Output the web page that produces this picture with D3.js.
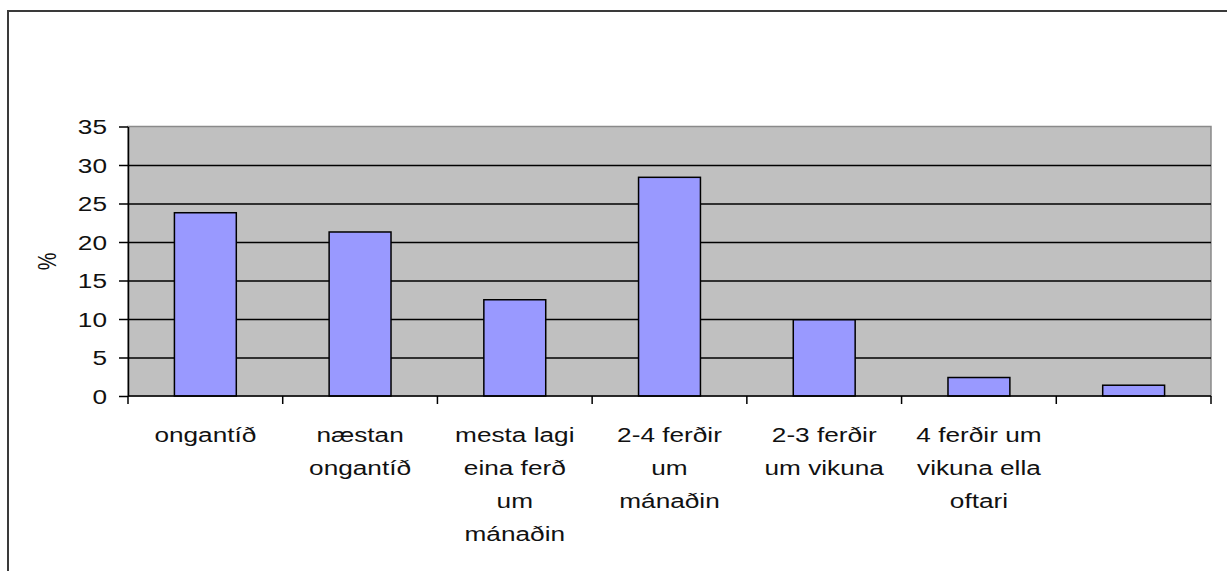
<!DOCTYPE html>
<html>
<head>
<meta charset="utf-8">
<script src="https://cdn.jsdelivr.net/npm/d3@7"></script>
<style>
  body { margin: 0; background: #fff; }
  text { font-family: "Liberation Sans", Arial, sans-serif; fill: #111; }
</style>
</head>
<body>
<svg width="1227" height="571"></svg>
<script>
// categories (line breaks as in the picture), values in %
const categories = [
  'ongantíð',
  'næstan\nongantíð',
  'mesta lagi\neina ferð\num\nmánaðin',
  '2-4 ferðir\num\nmánaðin',
  '2-3 ferðir\num vikuna',
  '4 ferðir um\nvikuna ella\noftari',
  ''
];
const values = [23.8, 21.3, 12.5, 28.4, 9.9, 2.4, 1.4];
const yTicks = [0, 5, 10, 15, 20, 25, 30, 35];
const yLabel = '%';

const sx = 1.31; // the picture is stretched sideways, so is the text
const fontSize = 20;

const svg = d3.select('svg');
const plot = { left: 128, right: 1211, top: 126.5, bottom: 396 };

// outer frame (cut off at right and bottom)
svg.append('rect')
  .attr('x', 8).attr('y', 11)
  .attr('width', 1400).attr('height', 800)
  .attr('fill', 'none')
  .attr('stroke', '#3a3a3a')
  .attr('stroke-width', 2);

const xScale = d3.scaleBand()
  .domain(d3.range(values.length))
  .range([plot.left, plot.right])
  .paddingInner(0.6)
  .paddingOuter(0.3);

const yScale = d3.scaleLinear()
  .domain([0, 35])
  .range([plot.bottom, plot.top]);

// plot background
svg.append('rect')
  .attr('x', plot.left).attr('y', plot.top)
  .attr('width', plot.right - plot.left)
  .attr('height', plot.bottom - plot.top)
  .attr('fill', '#c0c0c0')
  .attr('stroke', '#8a8a8a')
  .attr('stroke-width', 1.5);

// gridlines
const gridG = svg.append('g')
  .attr('transform', `translate(${plot.left},0)`)
  .call(d3.axisLeft(yScale)
    .tickValues(yTicks.filter(t => t > 0 && t < 35))
    .tickSize(-(plot.right - plot.left))
    .tickFormat(''));
gridG.select('.domain').remove();
gridG.selectAll('.tick line').attr('stroke', '#000').attr('stroke-width', 1.5);

// bars
svg.append('g').selectAll('rect')
  .data(values)
  .join('rect')
  .attr('x', (d, i) => xScale(i))
  .attr('y', d => yScale(d))
  .attr('width', xScale.bandwidth())
  .attr('height', d => yScale(0) - yScale(d))
  .attr('fill', '#9999ff')
  .attr('stroke', '#000')
  .attr('stroke-width', 1.5);

// y axis
const yAxisG = svg.append('g')
  .attr('transform', `translate(${plot.left},0)`)
  .call(d3.axisLeft(yScale).tickValues(yTicks).tickSize(9).tickSizeOuter(0));
yAxisG.select('.domain').attr('stroke', '#000').attr('stroke-width', 1.5);
yAxisG.selectAll('.tick line').attr('stroke', '#000').attr('stroke-width', 1.5);
yAxisG.selectAll('.tick text')
  .attr('x', null).attr('dy', '0.36em')
  .attr('transform', `translate(-21,0) scale(${sx},1)`)
  .style('font-size', fontSize + 'px')
  .style('font-family', '"Liberation Sans", Arial, sans-serif')
  .attr('fill', '#111');

// x axis: ticks at band edges
const edges = d3.range(values.length + 1);
const xPos = i => plot.left + i * xScale.step();
const xAxisG = svg.append('g');
xAxisG.append('line')
  .attr('x1', plot.left).attr('x2', plot.right)
  .attr('y1', plot.bottom).attr('y2', plot.bottom)
  .attr('stroke', '#000').attr('stroke-width', 1.5);
xAxisG.selectAll('line.tick')
  .data(edges)
  .join('line')
  .attr('class', 'tick')
  .attr('x1', xPos).attr('x2', xPos)
  .attr('y1', plot.bottom).attr('y2', plot.bottom + 8)
  .attr('stroke', '#000').attr('stroke-width', 1.5);

// category labels
const labels = xAxisG.selectAll('text.cat')
  .data(categories)
  .join('text')
  .attr('class', 'cat')
  .attr('text-anchor', 'middle')
  .style('font-size', fontSize + 'px')
  .attr('transform', (d, i) => `translate(${xScale(i) + xScale.bandwidth() / 2},442) scale(${sx},1)`);
labels.each(function(d) {
  d3.select(this).selectAll('tspan')
    .data(d.split('\n'))
    .join('tspan')
    .attr('x', 0)
    .attr('y', (l, j) => j * 33)
    .text(l => l);
});

// y label
svg.append('text')
  .attr('transform', `translate(56,${(plot.top + plot.bottom) / 2}) rotate(-90) scale(1,${sx})`)
  .attr('text-anchor', 'middle')
  .style('font-size', fontSize + 'px')
  .text(yLabel);
</script>
</body>
</html>
